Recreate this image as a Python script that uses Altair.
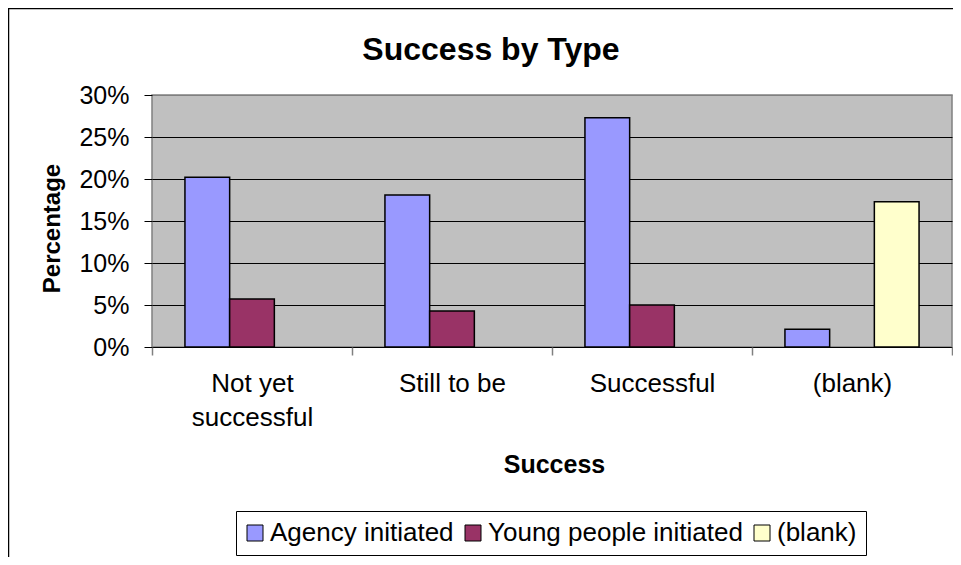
import altair as alt
import pandas as pd

chart_title = "Success by Type"
categories = ["Not yet successful", "Still to be", "Successful", "(blank)"]
series = ["Agency initiated", "Young people initiated", "(blank)"]
agency = [20.2, 18.1, 27.3, 2.1]
young = [5.7, 4.3, 5.0, None]
blank = [None, None, None, 17.3]
colors = ["#9999FF", "#993366", "#FFFFCC"]
y_ticks = [0, 5, 10, 15, 20, 25, 30]

rows = []
for s, vals in zip(series, [agency, young, blank]):
    for c, v in zip(categories, vals):
        if v is not None:
            rows.append({"Success": c, "Type": s, "Percentage": v / 100})
df = pd.DataFrame(rows)

FONT = "Liberation Sans"

frame = alt.Chart(pd.DataFrame({"f": [0]})).mark_rect(
    fill="white", fillOpacity=0, stroke="black", strokeWidth=1.5
).encode(
    x=alt.value(-143.5), x2=alt.value(1200), y=alt.value(-86.5), y2=alt.value(700)
)

bars = alt.Chart(df).mark_bar(stroke="black", strokeWidth=1.5).encode(
    x=alt.X(
        "Success:N",
        sort=categories,
        scale=alt.Scale(domain=categories, paddingInner=0, paddingOuter=0),
        axis=alt.Axis(
            title="Success",
            labelAngle=0,
            labelFont=FONT,
            labelFontSize=26,
            labelColor="black",
            labelPadding=15,
            labelLineHeight=34,
            labelOverlap=False,
            labelLimit=400,
            labelExpr="datum.label == 'Not yet successful' ? ['Not yet', 'successful'] : datum.label",
            tickBand="extent",
            tickSize=8,
            tickColor="#808080",
            tickWidth=1.5,
            domain=False,
            grid=False,
            titleFont=FONT,
            titleFontSize=25,
            titleFontWeight="bold",
            titleColor="black",
            titleX=402,
            titleY=125,
            titleBaseline="alphabetic",
        ),
    ),
    xOffset=alt.XOffset(
        "Type:N",
        sort=series,
        scale=alt.Scale(domain=series, paddingInner=0, paddingOuter=0.737),
    ),
    y=alt.Y(
        "Percentage:Q",
        scale=alt.Scale(domain=[0, 0.3], nice=False, zero=True),
        axis=alt.Axis(
            title="Percentage",
            values=[v / 100 for v in y_ticks],
            format=".0%",
            labelFont=FONT,
            labelFontSize=25,
            labelColor="black",
            labelPadding=15,
            tickSize=8,
            tickColor="black",
            tickWidth=1,
            domain=False,
            grid=True,
            gridColor=alt.condition("datum.value >= 0.29", alt.value("#808080"), alt.value("black")),
            gridWidth=1,
            titleFont=FONT,
            titleFontSize=24,
            titleFontWeight="bold",
            titleColor="black",
            titleAngle=270,
            titleAlign="center",
            titleBaseline="alphabetic",
            titleX=-93,
            titleY=133,
        ),
    ),
    color=alt.Color(
        "Type:N",
        scale=alt.Scale(domain=series, range=colors),
        legend=alt.Legend(
            title=None,
            orient="none",
            legendX=84,
            legendY=416,
            direction="horizontal",
            columns=3,
            symbolType="square",
            symbolSize=256,
            symbolStrokeColor="black",
            symbolStrokeWidth=1,
            symbolOffset=-3,
            labelFont=FONT,
            labelFontSize=26,
            labelColor="black",
            labelOffset=2,
            labelLimit=400,
            columnPadding=9,
            padding=9,
            strokeColor="black",
            fillColor="white",
        ),
    ),
)

title_text = alt.Chart(pd.DataFrame({"t": [chart_title]})).mark_text(
    font=FONT, fontSize=32, fontWeight="bold", baseline="alphabetic", align="center", color="black"
).encode(text="t:N", x=alt.value(339), y=alt.value(-35.5))

chart = alt.layer(frame, bars, title_text).properties(
    width=800,
    height=252,
    autosize=alt.AutoSizeParams(type="none"),
    padding={"left": 144, "top": 87, "right": 1, "bottom": 210},
    background="white",
).configure_view(fill="#C0C0C0", stroke="#808080", strokeWidth=1.5)

chart.save("out.html", embed_options={"renderer": "svg", "actions": False})
